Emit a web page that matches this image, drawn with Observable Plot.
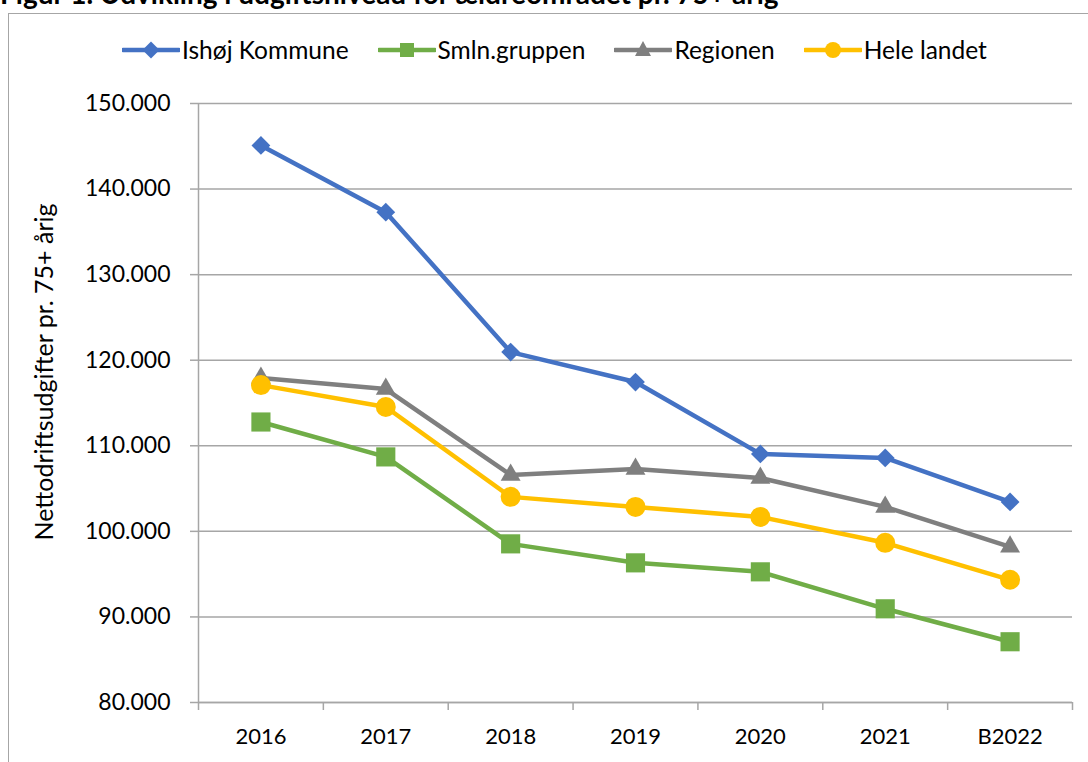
<!DOCTYPE html>
<html>
<head>
<meta charset="utf-8">
<script src="https://cdn.jsdelivr.net/npm/d3@7"></script>
<script src="https://cdn.jsdelivr.net/npm/@observablehq/plot@0.6"></script>
<style>
  html, body { margin: 0; padding: 0; background: #fff; }
  body { width: 1088px; height: 762px; overflow: hidden; position: relative; font-family: Lato, "Open Sans", sans-serif; }
  #title { position: absolute; left: 0; top: -21px; font-size: 28px; font-weight: bold; line-height: 28px; white-space: nowrap; color: #000; }
  #frame { position: absolute; left: 8px; top: 13px; width: 1100px; height: 800px; border: 1.5px solid #a6a6a6; }
  #legend { position: absolute; left: 122px; top: 35px; display: flex; gap: 29px; align-items: center; font-size: 24.5px; color: #000; }
  .item { display: flex; align-items: center; gap: 2px; }
  #chart { position: absolute; left: 0; top: 70px; }
</style>
</head>
<body>
<div id="title">Figur 1. Udvikling i udgiftsniveau for ældreområdet pr. 75+ årig</div>
<div id="frame"></div>
<div id="legend"></div>
<div id="chart"></div>
<script>
const categories = ["2016", "2017", "2018", "2019", "2020", "2021", "B2022"];
const seriesNames = ["Ishøj Kommune", "Smln.gruppen", "Regionen", "Hele landet"];
const ishoj      = [145100, 137300, 120950, 117450, 109050, 108580, 103440];
const smln       = [112780, 108700, 98540, 96320, 95270, 90950, 87100];
const regionen   = [117910, 116630, 106590, 107290, 106240, 102860, 98190];
const heleLandet = [117090, 114530, 104030, 102860, 101690, 98660, 94340];
const yTicks = [80000, 90000, 100000, 110000, 120000, 130000, 140000, 150000];
const yLabel = "Nettodriftsudgifter pr. 75+ årig";

const seriesValues = [ishoj, smln, regionen, heleLandet];
const colors = ["#4472C4", "#70AD47", "#7F7F7F", "#FFC000"];
const symbols = ["square", "square", "triangle", "circle"];
const rotations = [45, 0, 0, 0];
const radii = [7.5, 10.8, 7.4, 10];

const data = [];
seriesNames.forEach((s, k) => seriesValues[k].forEach((v, i) => data.push({series: s, i, value: v})));

const idx = d3.range(categories.length);
const bounds = d3.range(categories.length + 1).map(i => i - 0.5);
const fmt = d => d3.format(",")(d).replace(/,/g, ".");
const gray = "#a6a6a6";

const marks = [
  Plot.gridY(yTicks, {stroke: gray, strokeOpacity: 1, strokeWidth: 1.5}),
  Plot.ruleX([bounds[0]], {stroke: gray, strokeWidth: 1.5}),
  Plot.ruleY([yTicks[0]], {stroke: gray, strokeWidth: 1.5}),
  Plot.axisY(yTicks, {tickSize: 8, tickPadding: 20, stroke: gray, strokeWidth: 1.5, tickFormat: fmt, fontSize: 23, fill: "#000", label: null}),
  Plot.axisX(bounds, {tickSize: 8, stroke: gray, strokeWidth: 1.5, tickFormat: () => "", label: null}),
  Plot.axisX(idx, {tickSize: 0, tickPadding: 26, tickFormat: i => categories[i], fontSize: 22, fill: "#000", label: null}),
  Plot.text([yLabel], {frameAnchor: "left", textAnchor: "middle", lineAnchor: "middle", rotate: -90, dx: -154, dy: -31, fontSize: 25, fill: "#000"})
];
seriesNames.forEach((s, k) => {
  const rows = data.filter(d => d.series === s);
  marks.push(Plot.line(rows, {x: "i", y: "value", stroke: colors[k], strokeWidth: 4.5}));
});
seriesNames.forEach((s, k) => {
  const rows = data.filter(d => d.series === s);
  marks.push(Plot.dot(rows, {x: "i", y: "value", symbol: symbols[k], fill: colors[k], r: radii[k], rotate: rotations[k]}));
});

const chart = Plot.plot({
  width: 1088,
  height: 692,
  marginTop: 33,
  marginBottom: 60,
  marginLeft: 198,
  marginRight: 16,
  style: {fontFamily: "Lato, 'Open Sans', sans-serif", background: "transparent", overflow: "visible"},
  x: {type: "linear", domain: [bounds[0], bounds[bounds.length - 1]], axis: null},
  y: {domain: [yTicks[0], yTicks[yTicks.length - 1]], axis: null},
  marks
});
document.getElementById("chart").appendChild(chart);

// legend
const legend = document.getElementById("legend");
seriesNames.forEach((s, k) => {
  const item = document.createElement("div");
  item.className = "item";
  const c = colors[k];
  let marker;
  if (k === 0) marker = `<rect x="23" y="6" width="12" height="12" fill="${c}" transform="rotate(45 29 12)"/>`;
  else if (k === 1) marker = `<rect x="22" y="5" width="14" height="14" fill="${c}"/>`;
  else if (k === 2) marker = `<path d="M29 3 L37 18 L21 18 Z" fill="${c}"/>`;
  else marker = `<circle cx="29" cy="12" r="8" fill="${c}"/>`;
  item.innerHTML = `<svg width="58" height="24"><line x1="1" y1="12" x2="57" y2="12" stroke="${c}" stroke-width="4.5" stroke-linecap="round"/>${marker}</svg><span>${s}</span>`;
  legend.appendChild(item);
});
</script>
</body>
</html>
